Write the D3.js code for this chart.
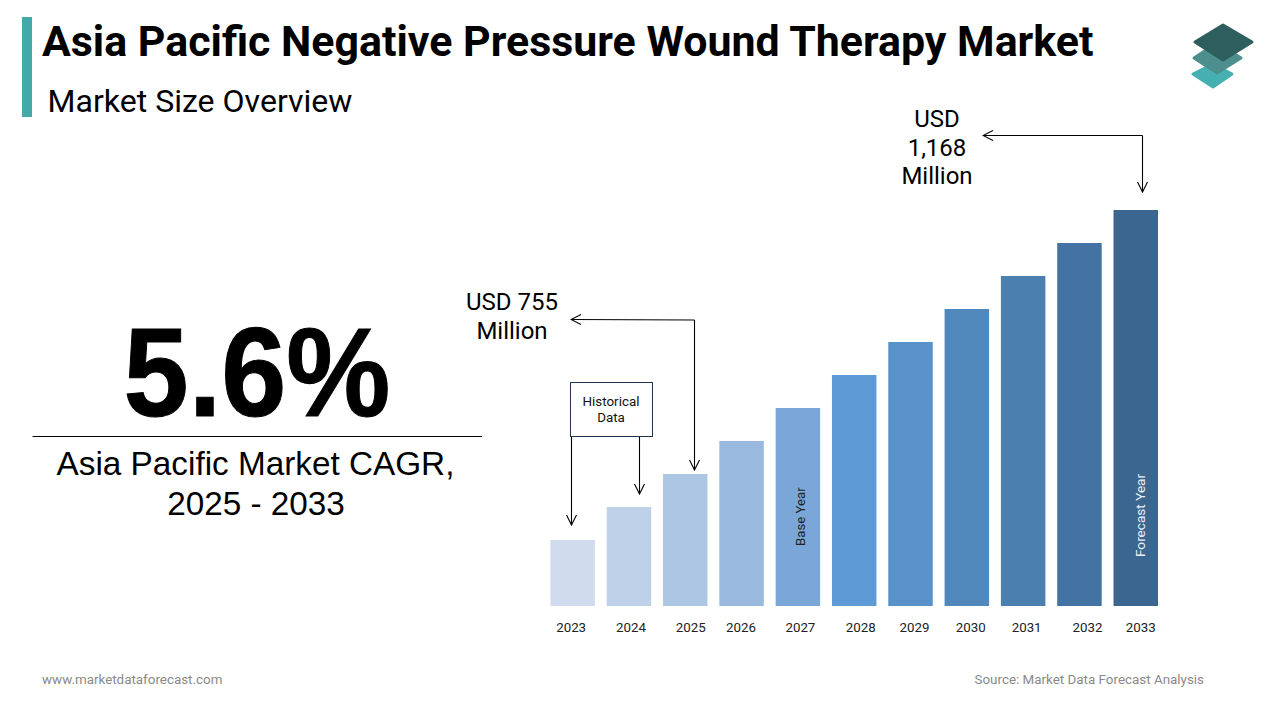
<!DOCTYPE html>
<html>
<head>
<meta charset="utf-8">
<script src="https://cdn.jsdelivr.net/npm/d3@7"></script>
<style>
  html, body { margin: 0; padding: 0; background: #fff; }
  text { font-family: Roboto, sans-serif; }
  .domain, .tick line { display: none; }
</style>
</head>
<body>
<div id="chart"></div>
<script>
// bars step up evenly in the picture, values are in bar height units
const years = ["2023","2024","2025","2026","2027","2028","2029","2030","2031","2032","2033"]
const barValues = [2,3,4,5,6,7,8,9,10,11,12]
const barColors = ["#d0dcee","#bfd1e9","#adc6e4","#99b9de","#7ba7d8","#5e9ad5","#5892c9","#5188bc","#4a7fb0","#4373a3","#3b668f"]
const barNotes = {"2027": "Base Year", "2033": "Forecast Year"}

const width = 1280, height = 720
const svg = d3.select("#chart").append("svg")
  .attr("width", width)
  .attr("height", height)
  .style("display", "block")

// header
svg.append("rect").attr("x", 22).attr("y", 17).attr("width", 10).attr("height", 100).attr("fill", "#46a9a9")
svg.append("text").attr("x", 42).attr("y", 56)
  .attr("font-size", 42.9).attr("font-weight", 700).attr("fill", "#000")
  .text("Asia Pacific Negative Pressure Wound Therapy Market")
svg.append("text").attr("x", 47.5).attr("y", 112)
  .attr("font-size", 32.05).attr("fill", "#000")
  .text("Market Size Overview")

// logo
const logo = svg.append("g").attr("stroke-linejoin", "round").attr("stroke-width", 3)
const layers = [
  {pts: "1213,64 1232,74 1213,87 1193,74", c: "#46b0b0"},
  {pts: "1217,43 1241,58 1217,73 1194,58", c: "#4d8f8d"},
  {pts: "1223,25 1252,42 1223,60 1195,42", c: "#2e5f5e"}
]
logo.selectAll("polygon").data(layers).enter().append("polygon")
  .attr("points", d => d.pts)
  .attr("fill", d => d.c)
  .attr("stroke", d => d.c)

// left panel
svg.append("text").attr("transform", "translate(257,416) scale(0.96,1.03)").attr("text-anchor", "middle")
  .style("font-family", "'Liberation Sans', Arial, sans-serif")
  .attr("font-size", 122).attr("font-weight", 700).attr("fill", "#000")
  .attr("stroke", "#000").attr("stroke-width", 1)
  .text("5.6%")
svg.append("line").attr("x1", 32.5).attr("x2", 482).attr("y1", 436.5).attr("y2", 436.5).attr("stroke", "#000")
const cagr = ["Asia Pacific Market CAGR,", "2025 - 2033"]
svg.selectAll(".cagr").data(cagr).enter().append("text")
  .attr("class", "cagr")
  .attr("x", (d, i) => i == 0 ? 255.5 : 256)
  .attr("y", (d, i) => 475 + i * 40)
  .attr("text-anchor", "middle")
  .style("font-family", "'Liberation Sans', Arial, sans-serif")
  .attr("font-size", 33.3).attr("fill", "#000")
  .text(d => d)

// scales
const x = d3.scaleBand().domain(years).range([550.4, 1158]).paddingInner(0.21).paddingOuter(0)
const y = d3.scaleLinear().domain([0, 12]).range([606, 210])

const data = years.map((d, i) => ({year: d, value: barValues[i], color: barColors[i]}))

svg.selectAll(".bar").data(data).enter().append("rect")
  .attr("class", "bar")
  .attr("x", d => x(d.year))
  .attr("y", d => y(d.value))
  .attr("width", x.bandwidth())
  .attr("height", d => y(0) - y(d.value))
  .attr("fill", d => d.color)

// year labels sit a little off the bar centres in the original
const tickNudge = [-1.5, 2, 5.5, -0.5, 2.5, 6.5, 4, 4, 3.5, 8, 5]
const axis = svg.append("g")
  .attr("transform", "translate(0,606)")
  .call(d3.axisBottom(x).tickSize(0))
axis.selectAll("text")
  .attr("font-size", 13.3)
  .attr("fill", "#222")
  .attr("y", 0)
  .attr("dy", 26)
  .attr("dx", (d, i) => tickNudge[i])

// notes inside bars
svg.append("text")
  .attr("transform", `translate(${x("2027") + 29},${y(0) - 60}) rotate(-90)`)
  .attr("font-size", 13.2).attr("fill", "#222")
  .text(barNotes["2027"])
svg.append("text")
  .attr("transform", `translate(${x("2033") + 31.5},${y(0) - 49}) rotate(-90)`)
  .attr("font-size", 13.6).attr("fill", "#e8eef5")
  .text(barNotes["2033"])

// callouts
const arrowHead = svg.append("defs").append("marker")
  .attr("id", "head")
  .attr("viewBox", "0 0 12 12")
  .attr("refX", 11).attr("refY", 6)
  .attr("markerWidth", 12).attr("markerHeight", 12)
  .attr("markerUnits", "userSpaceOnUse")
  .attr("orient", "auto")
arrowHead.append("path").attr("d", "M1,1 L11,6 L1,11").attr("fill", "none").attr("stroke", "#000").attr("stroke-width", 1.1)

function arrowLine(pts) {
  svg.append("path")
    .attr("d", d3.line()(pts))
    .attr("fill", "none")
    .attr("stroke", "#000")
    .attr("stroke-width", 1.1)
    .attr("marker-end", "url(#head)")
}

// USD 1,168
arrowLine([[1142.5, 135.5], [983, 135.5]])
arrowLine([[1142.5, 135.5], [1142.5, 192]])
// USD 755
arrowLine([[694.5, 320], [571, 319.5]])
arrowLine([[694.5, 320], [694.5, 470]])
// Historical Data box
arrowLine([[571.5, 437], [571.5, 525]])
arrowLine([[639.5, 437], [639.5, 494]])

svg.append("rect").attr("x", 570.5).attr("y", 382.5).attr("width", 82).attr("height", 54)
  .attr("fill", "#fff").attr("stroke", "#1f3550").attr("stroke-width", 1)
const boxLines = ["Historical", "Data"]
svg.selectAll(".hist").data(boxLines).enter().append("text")
  .attr("class", "hist")
  .attr("x", 611).attr("y", (d, i) => 406 + i * 16)
  .attr("text-anchor", "middle").attr("font-size", 13.4).attr("fill", "#111")
  .text(d => d)

const label755 = ["USD 755", "Million"]
svg.selectAll(".l755").data(label755).enter().append("text")
  .attr("class", "l755")
  .attr("x", 512).attr("y", (d, i) => 310 + i * 28.5)
  .attr("text-anchor", "middle").attr("font-size", 24).attr("fill", "#000")
  .text(d => d)

const label1168 = ["USD", "1,168", "Million"]
svg.selectAll(".l1168").data(label1168).enter().append("text")
  .attr("class", "l1168")
  .attr("x", 937).attr("y", (d, i) => 127 + i * 28.5)
  .attr("text-anchor", "middle").attr("font-size", 24).attr("fill", "#000")
  .text(d => d)

// footer
svg.append("text").attr("x", 42).attr("y", 684)
  .attr("font-size", 13.4).attr("fill", "#8a8a8a")
  .text("www.marketdataforecast.com")
svg.append("text").attr("x", 1204).attr("y", 684).attr("text-anchor", "end")
  .attr("font-size", 13.4).attr("fill", "#8a8a8a")
  .text("Source: Market Data Forecast Analysis")
</script>
</body>
</html>
